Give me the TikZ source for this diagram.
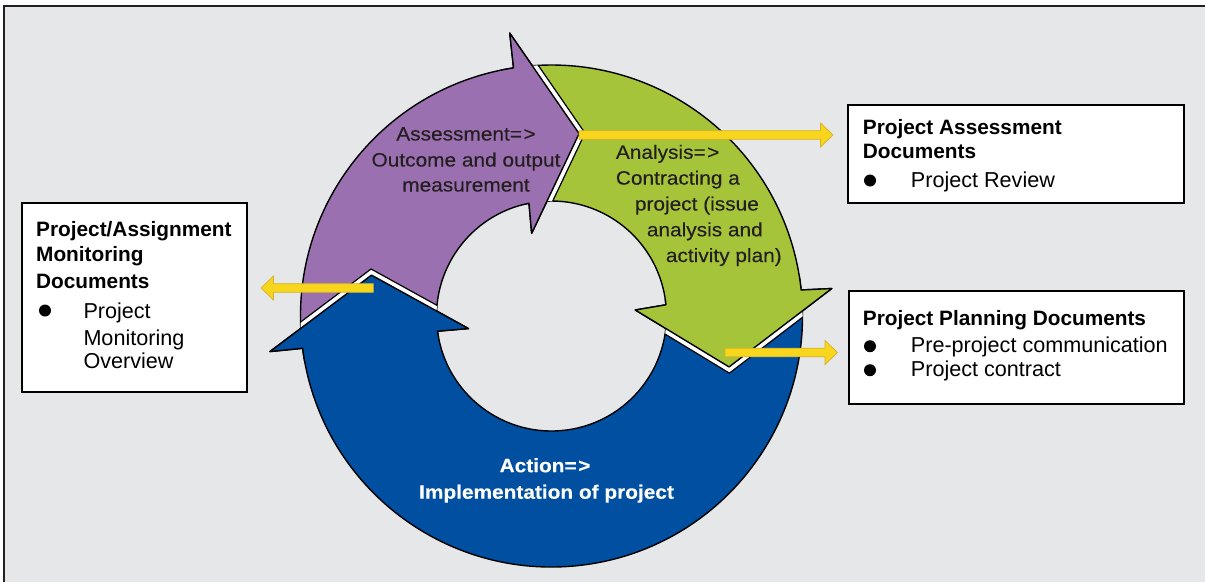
\documentclass[tikz,border=0pt]{standalone}
\usepackage{fontspec}
\setmainfont{Liberation Sans}
\newfontfamily\cycfont[FakeStretch=1.08,FakeBold=0.25]{Liberation Sans}
\usetikzlibrary{calc}
\definecolor{bggray}{RGB}{230,231,232}
\definecolor{framec}{RGB}{35,31,32}
\definecolor{purp}{RGB}{155,112,176}
\definecolor{grn}{RGB}{166,196,58}
\definecolor{blu}{RGB}{0,79,160}
\definecolor{yel}{RGB}{248,214,30}
\definecolor{yelline}{RGB}{214,176,40}
\definecolor{txtc}{RGB}{35,31,32}

\def\PurpBody{(bJo) arc[start angle=187.4, end angle=98.7, radius=251] -- (pBo) -- (pT) -- (pBi) -- (pJi) arc[start angle=101.3, end angle=187.6, radius=115] -- cycle}
\def\GrnBody{(pJo) arc[start angle=98.7, end angle=5.95, radius=251] -- (gBo) -- (gT) -- (gBi) -- (gJi) arc[start angle=5.6, end angle=101.3, radius=115] -- cycle}
\def\BluBody{(gJo) arc[start angle=5.95, end angle=-172.6, radius=251] -- (bBo) -- (bT) -- (bBi) -- (bJi) arc[start angle=-172.4, end angle=5.6, radius=115] -- cycle}
\def\PurpHead{($(C)+(101.7:251)$) arc[start angle=101.7, end angle=98.7, radius=251] -- (pBo) -- (pT) -- (pBi) -- (pJi) arc[start angle=101.3, end angle=104.3, radius=115]}
\def\GrnHead{($(C)+(8.95:251)$) arc[start angle=8.95, end angle=5.95, radius=251] -- (gBo) -- (gT) -- (gBi) -- (gJi) arc[start angle=5.6, end angle=8.6, radius=115]}
\def\BluHead{($(C)+(-169.6:251)$) arc[start angle=-169.6, end angle=-172.6, radius=251] -- (bBo) -- (bT) -- (bBi) -- (bJi) arc[start angle=-172.4, end angle=-169.4, radius=115]}
\newcommand\yarr[3]{%
  \path[yarrow] ($(#1)+(0,4.3)$) -- ($(#2)+(#3,4.3)$) -- ($(#2)+(#3,12)$) -- (#2)
    -- ($(#2)+(#3,-12)$) -- ($(#2)+(#3,-4.3)$) -- ($(#1)+(0,-4.3)$) -- cycle;}
\newcommand\band[1]{%
  \draw[black, line width=11.5pt, line join=miter] #1;
  \draw[white, line width=8.8pt, line join=miter] #1;}

\begin{document}
\begin{tikzpicture}[x=1pt,y=1pt,
  arrowline/.style={draw=black, line width=1.4pt, line join=round},
  yarrow/.style={fill=yel, draw=yelline, line width=0.7pt, line join=miter},
  docbox/.style={draw=black, line width=1.8pt, fill=white, inner sep=0pt, anchor=north west},
  boxtitle/.style={font=\fontsize{20.8}{24}\selectfont\bfseries, text=black, inner sep=0pt, anchor=base west},
  boxitem/.style={font=\fontsize{21.6}{25}\selectfont, text=black, inner sep=0pt, anchor=base west},
  bul/.style={circle, fill=black, inner sep=0pt, minimum size=12pt},
  cyctext/.style={font=\cycfont\fontsize{19.3}{25}\selectfont, text=txtc, inner sep=0pt},
  cycbold/.style={font=\cycfont\bfseries\fontsize{19.3}{25}\selectfont, text=white, inner sep=0pt, anchor=base},
]
\useasboundingbox (0,0) rectangle (1205,-582);
\fill[white] (0,0) rectangle (1205,-582);
\fill[bggray] (4,-6) rectangle (1205,-582);
\draw[framec, line width=2.2pt] (4,-582) -- (4,-6) -- (1205,-6);

\coordinate (C) at (551.5,-316);
% purple head
\coordinate (pBo) at ($(C)+(98.4:286)$);
\coordinate (pJo) at ($(C)+(98.7:251)$);
\coordinate (pT)  at ($(C)+(81.4:184.5)$);
\coordinate (pJi) at ($(C)+(101.3:115)$);
\coordinate (pBi) at ($(C)+(103.5:85)$);
% green head
\coordinate (gBo) at ($(C)+(5.6:281.6)$);
\coordinate (gJo) at ($(C)+(5.95:251)$);
\coordinate (gT)  at ($(C)+(-16:184.7)$);
\coordinate (gJi) at ($(C)+(5.6:115)$);
\coordinate (gBi) at ($(C)+(4.1:84)$);
% blue head
\coordinate (bBo) at ($(C)+(187.2:283.8)$);
\coordinate (bJo) at ($(C)+(187.4:251)$);
\coordinate (bT)  at ($(C)+(167.2:184.6)$);
\coordinate (bJi) at ($(C)+(187.6:115)$);
\coordinate (bBi) at ($(C)+(188.6:84)$);

% bodies
\path[fill=purp, arrowline] \PurpBody;
\path[fill=grn, arrowline] \GrnBody;
\path[fill=blu, arrowline] \BluBody;

% white gaps between arrows
\begin{scope}\clip \GrnBody; \band{(pBo) -- (pT) -- (pBi)}\end{scope}
\begin{scope}\clip \BluBody; \band{(gBo) -- (gT) -- (gBi)}\end{scope}
\begin{scope}\clip \PurpBody; \band{(bBo) -- (bT) -- (bBi)}\end{scope}

% heads on top
\fill[purp] \PurpHead -- cycle;
\draw[arrowline] \PurpHead;
\fill[grn] \GrnHead -- cycle;
\draw[arrowline] \GrnHead;
\fill[blu] \BluHead -- cycle;
\draw[arrowline] \BluHead;

% cycle texts
\node[cyctext, anchor=base] (as1) at (466,-140.5) {Assessment=\kern1.5pt>};
\node[cyctext, anchor=base] (as2) at (466,-166.5) {Outcome and output};
\node[cyctext, anchor=base] (as3) at (466,-191.5) {measurement};
\node[cyctext, anchor=base west] (an1) at (615.7,-158.8) {Analysis=\kern1.5pt>};
\node[cyctext, anchor=base west] (an2) at (615.7,-184.6) {Contracting a};
\node[cyctext, anchor=base west] (an3) at (634.7,-210.5) {project (issue};
\node[cyctext, anchor=base west] (an4) at (646.7,-236.3) {analysis and};
\node[cyctext, anchor=base west] (an5) at (665.7,-262) {activity plan)};
\node[cycbold] (ac1) at (545,-472.2) {Action=\kern1.5pt>};
\node[cycbold] (ac2) at (546.5,-498.7) {Implementation of project};

% boxes
\node[docbox, minimum width=336pt, minimum height=98pt] (boxA) at (847,-104) {};
\node[docbox, minimum width=335pt, minimum height=113pt] (boxB) at (848,-290) {};
\node[docbox, minimum width=225pt, minimum height=189pt] (boxC) at (21,-202) {};

\node[boxtitle] (a1) at (862.7,-134.3) {Project Assessment};
\node[boxtitle] (a2) at (862.7,-158.3) {Documents};
\node[bul] (ab1) at (870,-180.5) {};
\node[boxitem] (a3) at (910.7,-187.7) {Project Review};

\node[boxtitle] (b1) at (862.7,-325) {Project Planning Documents};
\node[bul] (bb1) at (870,-346.2) {};
\node[boxitem] (b2) at (910.7,-352.7) {Pre-project communication};
\node[bul] (bb2) at (870,-370.2) {};
\node[boxitem] (b3) at (910.7,-376.7) {Project contract};

\node[boxtitle] (c1) at (36,-236.7) {Project/Assignment};
\node[boxtitle] (c2) at (36,-261.7) {Monitoring};
\node[boxtitle] (c3) at (36,-288.3) {Documents};
\node[bul] (cb1) at (45,-310.5) {};
\node[boxitem] (c4) at (83.3,-318.3) {Project};
\node[boxitem] (c5) at (83.3,-345) {Monitoring};
\node[boxitem] (c6) at (83.3,-368.3) {Overview};

% yellow connectors
\coordinate (y1s) at (579,-135);
\coordinate (y1e) at (833,-135);
\coordinate (y2s) at (373.3,-288);
\coordinate (y2e) at (261,-288);
\coordinate (y3s) at (725,-352.5);
\coordinate (y3e) at (837.5,-352.5);
\yarr{y1s}{y1e}{-12.5}
\yarr{y2s}{y2e}{12.5}
\yarr{y3s}{y3e}{-12.5}
\end{tikzpicture}
\end{document}
